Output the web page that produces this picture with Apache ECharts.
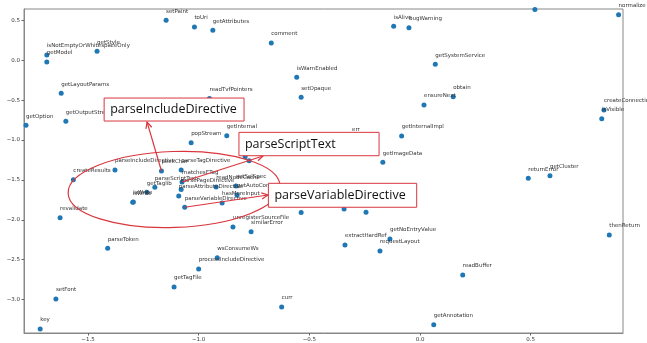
<!DOCTYPE html>
<html><head><meta charset="utf-8">
<script src="https://cdn.jsdelivr.net/npm/echarts@6/dist/echarts.min.js"></script>
<style>html,body{margin:0;padding:0;background:#fff}#c{width:647px;height:343px}</style>
</head><body><div id="c"></div>
<script>
// ---- data ----
const names = ['setPaint','toUri','getAttributes','comment','isAlive','bugWarning','normalize','',
 'isNotEmptyOrWhitespaceOnly','getModel','getStyle','getLayoutParams','getOption','getOutputStream',
 'isWarnEnabled','setOpaque','readTvfPointers','getSystemService','obtain','ensureNext','createConnection','isVisible',
 'popStream','getInternal','err','getInternalImpl','getImageData','skipELExpression','skipUntilETag',
 'returnError','getCluster','thenReturn','readBuffer','getAnnotation','getNoEntryValue','extractHardRef','requestLayout',
 'curr','wsConsumeWs','processIncludeDirective','getTagFile','parseToken','setFont','key',
 'unregisterSourceFile','similarError','parseXMLDirective','nextChar','skipSpaces',
 'createResults','revalidate','parseIncludeDirective','peekChar','parseTagDirective','matchesETag',
 'parseScriptText','parsePageDirective','parseAttributeDirective','getTaglib','isWrite','isWrite',
 'parseVariableDirective','readNodeCache','setSelSpec','getAutoCommit','hasMoreInput'];
const xs = [-1.147,-1.019,-0.936,-0.672,-0.119,-0.050,0.897,0.519,
 -1.686,-1.686,-1.459,-1.621,-1.780,-1.600,
 -0.557,-0.537,-0.951,0.069,0.150,0.018,0.831,0.821,
 -1.034,-0.873,-0.307,-0.083,-0.168,-0.790,-0.772,
 0.489,0.587,0.855,0.193,0.062,-0.136,-0.339,-0.181,
 -0.625,-0.916,-1.000,-1.111,-1.411,-1.645,-1.716,
 -0.845,-0.763,-0.537,-0.343,-0.244,
 -1.566,-1.626,-1.378,-1.168,-1.079,-1.075,
 -1.198,-1.079,-1.090,-1.234,-1.298,-1.295,
 -1.063,-0.921,-0.831,-0.827,-0.894];
const ys = [0.500,0.416,0.375,0.216,0.425,0.407,0.570,0.637,
 0.065,-0.023,0.112,-0.415,-0.816,-0.766,
 -0.214,-0.465,-0.480,-0.051,-0.457,-0.561,-0.624,-0.733,
 -1.034,-0.946,-0.981,-0.950,-1.279,-1.209,-1.259,
 -1.480,-1.447,-2.190,-2.692,-3.315,-2.241,-2.316,-2.391,
 -3.093,-2.475,-2.617,-2.842,-2.357,-2.992,-3.368,
 -2.090,-2.149,-1.909,-1.865,-1.906,
 -1.497,-1.974,-1.376,-1.388,-1.376,-1.526,
 -1.593,-1.620,-1.702,-1.655,-1.781,-1.778,
 -1.843,-1.589,-1.576,-1.689,-1.789];
const xTicks = [-1.5,-1.0,-0.5,0.0,0.5];
const xTickLabels = ['\u22121.5','\u22121.0','\u22120.5','0.0','0.5'];
const yTicks = [0.5,0.0,-0.5,-1.0,-1.5,-2.0,-2.5,-3.0];
const yTickLabels = ['0.5','0.0','\u22120.5','\u22121.0','\u22121.5','\u22122.0','\u22122.5','\u22123.0'];
const xRange = [-1.789,0.917];
const yRange = [-3.419,0.642];
// annotations (data coordinates)
const boxTexts = ['parseIncludeDirective','parseScriptText','parseVariableDirective'];
const boxX0 = [-1.427,-0.818,-0.685];
const boxX1 = [-0.795,-0.185,-0.015];
const boxY0 = [-0.474,-0.904,-1.543];
const boxY1 = [-0.762,-1.197,-1.843];
const arrowFrom = ['peekChar','matchesETag','parseVariableDirective'];
const arrowToX = [-1.233,-0.709,-0.687];
const arrowToY = [-0.775,-1.200,-1.689];
const ellipseC = [-1.111,-1.620];
const ellipseR = [0.479,0.476];

const RED = '#d9363e';
const chart = echarts.init(document.getElementById('c'), null, {renderer:'canvas'});
const data = names.map((n,i)=>({name:n, value:[xs[i], ys[i]]}));
const fmt = (ticks, labels) => v => { for (let i=0;i<ticks.length;i++) if (Math.abs(ticks[i]-v)<1e-6) return labels[i]; return ''; };
chart.setOption({
  animation:false,
  backgroundColor:'#fff',
  grid:{left:24,right:24,top:9,bottom:10,show:true,borderColor:'#888',borderWidth:1,outerBoundsMode:'none',containLabel:false},
  xAxis:{type:'value',min:xRange[0],max:xRange[1],
    axisLine:{show:true,onZero:false,lineStyle:{color:'#888',width:1}},
    axisTick:{show:true,length:2.5,lineStyle:{color:'#666'},customValues:xTicks},
    axisLabel:{customValues:xTicks,formatter:fmt(xTicks,xTickLabels),fontSize:5.5,fontFamily:'DejaVu Sans',color:'#333',margin:4},
    splitLine:{show:false}},
  yAxis:{type:'value',min:yRange[0],max:yRange[1],
    axisLine:{show:true,onZero:false,lineStyle:{color:'#888',width:1}},
    axisTick:{show:true,length:2.5,lineStyle:{color:'#666'},customValues:yTicks},
    axisLabel:{customValues:yTicks,formatter:fmt(yTicks,yTickLabels),fontSize:5.5,fontFamily:'DejaVu Sans',color:'#333',margin:4},
    splitLine:{show:false}},
  series:[{type:'scatter',data:data,symbolSize:5,itemStyle:{color:'#1f77b4',opacity:1},
    label:{show:true,formatter:'{b}',position:[2.5,-3.5],align:'left',verticalAlign:'bottom',
      fontSize:5.5,fontFamily:'DejaVu Sans',color:'#333'},
    emphasis:{disabled:true}}]
});

function P(x,y){ return chart.convertToPixel({xAxisIndex:0,yAxisIndex:0},[x,y]); }
const g = [];
// ellipse
const ec = P(ellipseC[0], ellipseC[1]);
const er = P(ellipseC[0]+ellipseR[0], ellipseC[1]-ellipseR[1]);
g.push({type:'ellipse', x:ec[0], y:ec[1], rotation:0.035, z:50,
  shape:{cx:0,cy:0,rx:Math.abs(er[0]-ec[0]),ry:Math.abs(er[1]-ec[1])},
  style:{fill:null,stroke:RED,lineWidth:1.2}, silent:true});
// arrows
arrowFrom.forEach((nm,i)=>{
  const k = names.indexOf(nm);
  const a = P(xs[k], ys[k]);
  const b = P(arrowToX[i], arrowToY[i]);
  const ang = Math.atan2(b[1]-a[1], b[0]-a[0]);
  const L = 7, h = 0.45;
  const p1 = [b[0]-L*Math.cos(ang-h), b[1]-L*Math.sin(ang-h)];
  const p2 = [b[0]-L*Math.cos(ang+h), b[1]-L*Math.sin(ang+h)];
  g.push({type:'line', z:50, silent:true, shape:{x1:a[0],y1:a[1],x2:b[0],y2:b[1]}, style:{stroke:RED,lineWidth:1.2}});
  g.push({type:'polyline', z:50, silent:true, shape:{points:[p1,b,p2]}, style:{stroke:RED,lineWidth:1.2,fill:null}});
});
// boxes
boxTexts.forEach((t,i)=>{
  const a = P(boxX0[i], boxY0[i]);
  const b = P(boxX1[i], boxY1[i]);
  g.push({type:'rect', z:60, silent:true, shape:{x:a[0],y:a[1],width:b[0]-a[0],height:b[1]-a[1]},
    style:{fill:'#fff',stroke:RED,lineWidth:1}});
  g.push({type:'text', z:61, silent:true, x:a[0]+6, y:(a[1]+b[1])/2,
    style:{text:t,fontSize:12.5,fontFamily:'Open Sans',fill:'#111',align:'left',verticalAlign:'middle'}});
});
chart.setOption({graphic:{elements:g}});
</script>
</body></html>
